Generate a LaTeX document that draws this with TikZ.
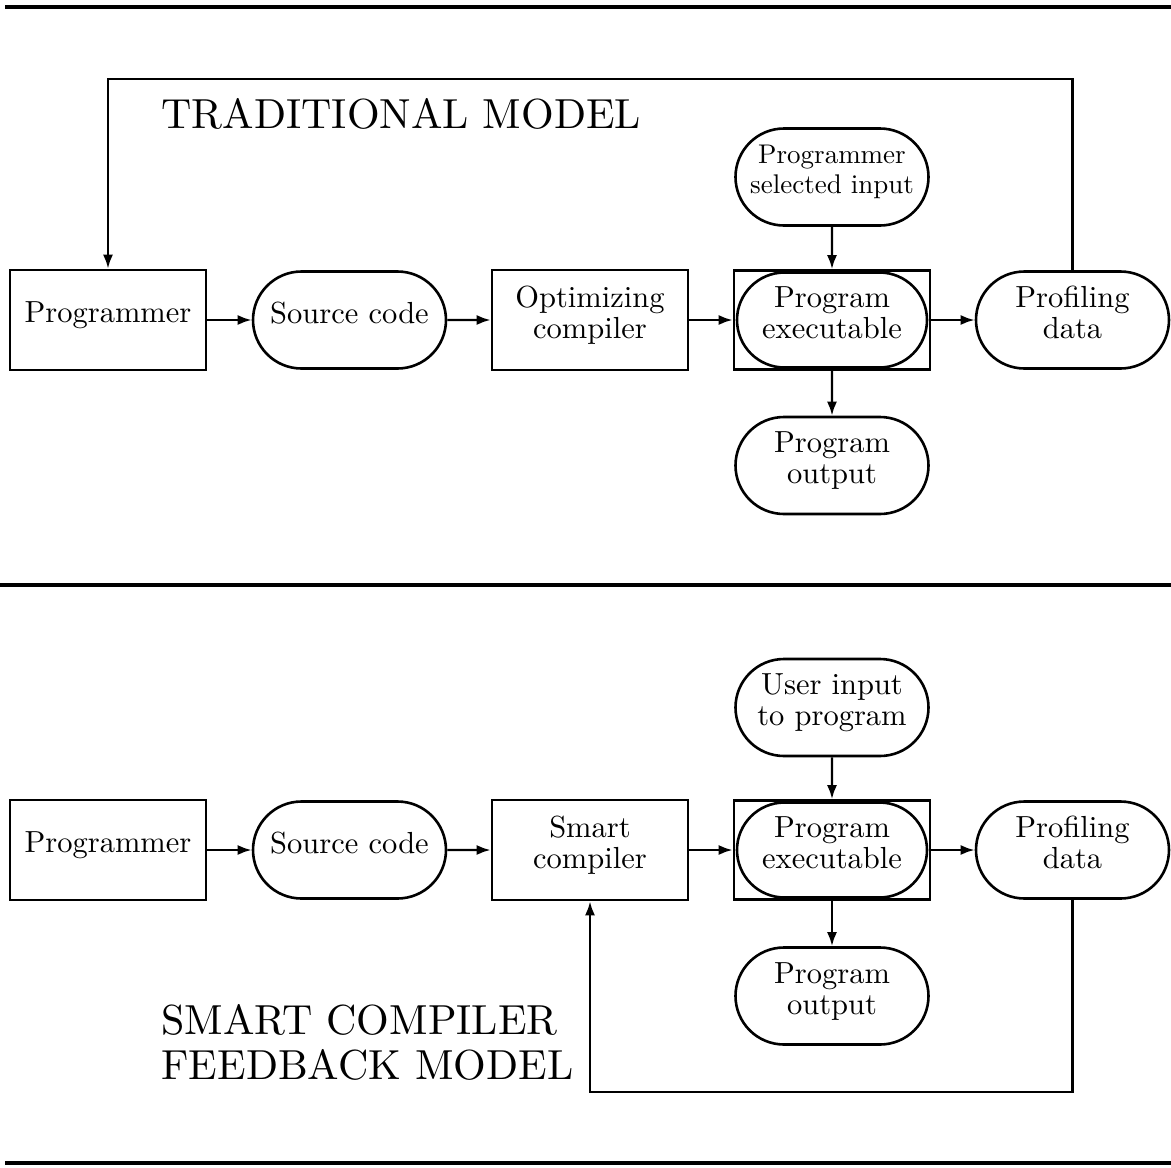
\documentclass[tikz,border=0pt]{standalone}
\usepackage{fontspec}
\setmainfont{lmroman10-regular.otf}
\usepackage{tikz}
\usetikzlibrary{shapes.misc}
\usetikzlibrary{arrows.meta}
\tikzset{
  box/.style={draw, line width=2.6pt, rectangle, minimum width=196pt, minimum height=100pt, text depth=15pt, align=center, font=\fontsize{30.5}{31}\selectfont},
  pill/.style={draw, line width=2.6pt, rounded rectangle, minimum width=193pt, minimum height=97pt, inner sep=0pt, text depth=15pt, align=center, font=\fontsize{30.5}{31}\selectfont},
  conn/.style={line width=2.4pt, -{Latex[length=14pt,width=10pt]}},
  rule/.style={line width=4pt},
  title/.style={anchor=base west, font=\fontsize{42}{46}\selectfont}
}

\begin{document}
\begin{tikzpicture}[x=1pt, y=-1pt]
        \useasboundingbox (0,0) rectangle (1171,1168);
        % rules
        \draw[rule] (5,7) -- (1171,7);
        \draw[rule] (0,585) -- (1171,585);
        \draw[rule] (5,1163) -- (1171,1163);
        % traditional model
        \node[title] (ttl1) at (158,128) {TRADITIONAL MODEL};
        \node[box] (prog1) at (108,320) {Programmer};
        \node[pill] (src1) at (349.5,320) {Source code};
        \node[box] (comp1) at (590,320) {Optimizing\\compiler};
        \node[box, minimum height=99pt] (exe1) at (832,320) {};
        \node[pill, minimum width=190pt, minimum height=95pt] (run1) at (832,320) {Program\\executable};
        \node[pill] (prof1) at (1072.5,320) {Profiling\\data};
        \node[pill, font=\fontsize{27}{30}\selectfont] (sel1) at (832,177) {Programmer\\selected input};
        \node[pill] (out1) at (832,465.5) {Program\\output};
        \coordinate (fb1) at (108,79);
        \draw[conn] (prog1) -- (src1);
        \draw[conn] (src1) -- (comp1);
        \draw[conn] (comp1) -- (exe1);
        \draw[conn] (exe1) -- (prof1);
        \draw[conn] (sel1) -- (exe1);
        \draw[conn] (exe1) -- (out1);
        \draw[conn] (prof1.north) |- (fb1) -- (prog1.north);
        % smart compiler feedback model
        \node[title] (ttl2) at (158,1034) {SMART COMPILER};
        \node[title] (ttl3) at (158,1079) {FEEDBACK MODEL};
        \node[box] (prog2) at (108,850) {Programmer};
        \node[pill] (src2) at (349.5,850) {Source code};
        \node[box] (comp2) at (590,850) {Smart\\compiler};
        \node[box, minimum height=99pt] (exe2) at (832,850) {};
        \node[pill, minimum width=190pt, minimum height=95pt] (run2) at (832,850) {Program\\executable};
        \node[pill] (prof2) at (1072.5,850) {Profiling\\data};
        \node[pill] (usr2) at (832,707.5) {User input\\to program};
        \node[pill] (out2) at (832,996) {Program\\output};
        \coordinate (fb2) at (590,1092);
        \draw[conn] (prog2) -- (src2);
        \draw[conn] (src2) -- (comp2);
        \draw[conn] (comp2) -- (exe2);
        \draw[conn] (exe2) -- (prof2);
        \draw[conn] (usr2) -- (exe2);
        \draw[conn] (exe2) -- (out2);
        \draw[conn] (prof2.south) |- (fb2) -- (comp2.south);
\end{tikzpicture}
\end{document}
